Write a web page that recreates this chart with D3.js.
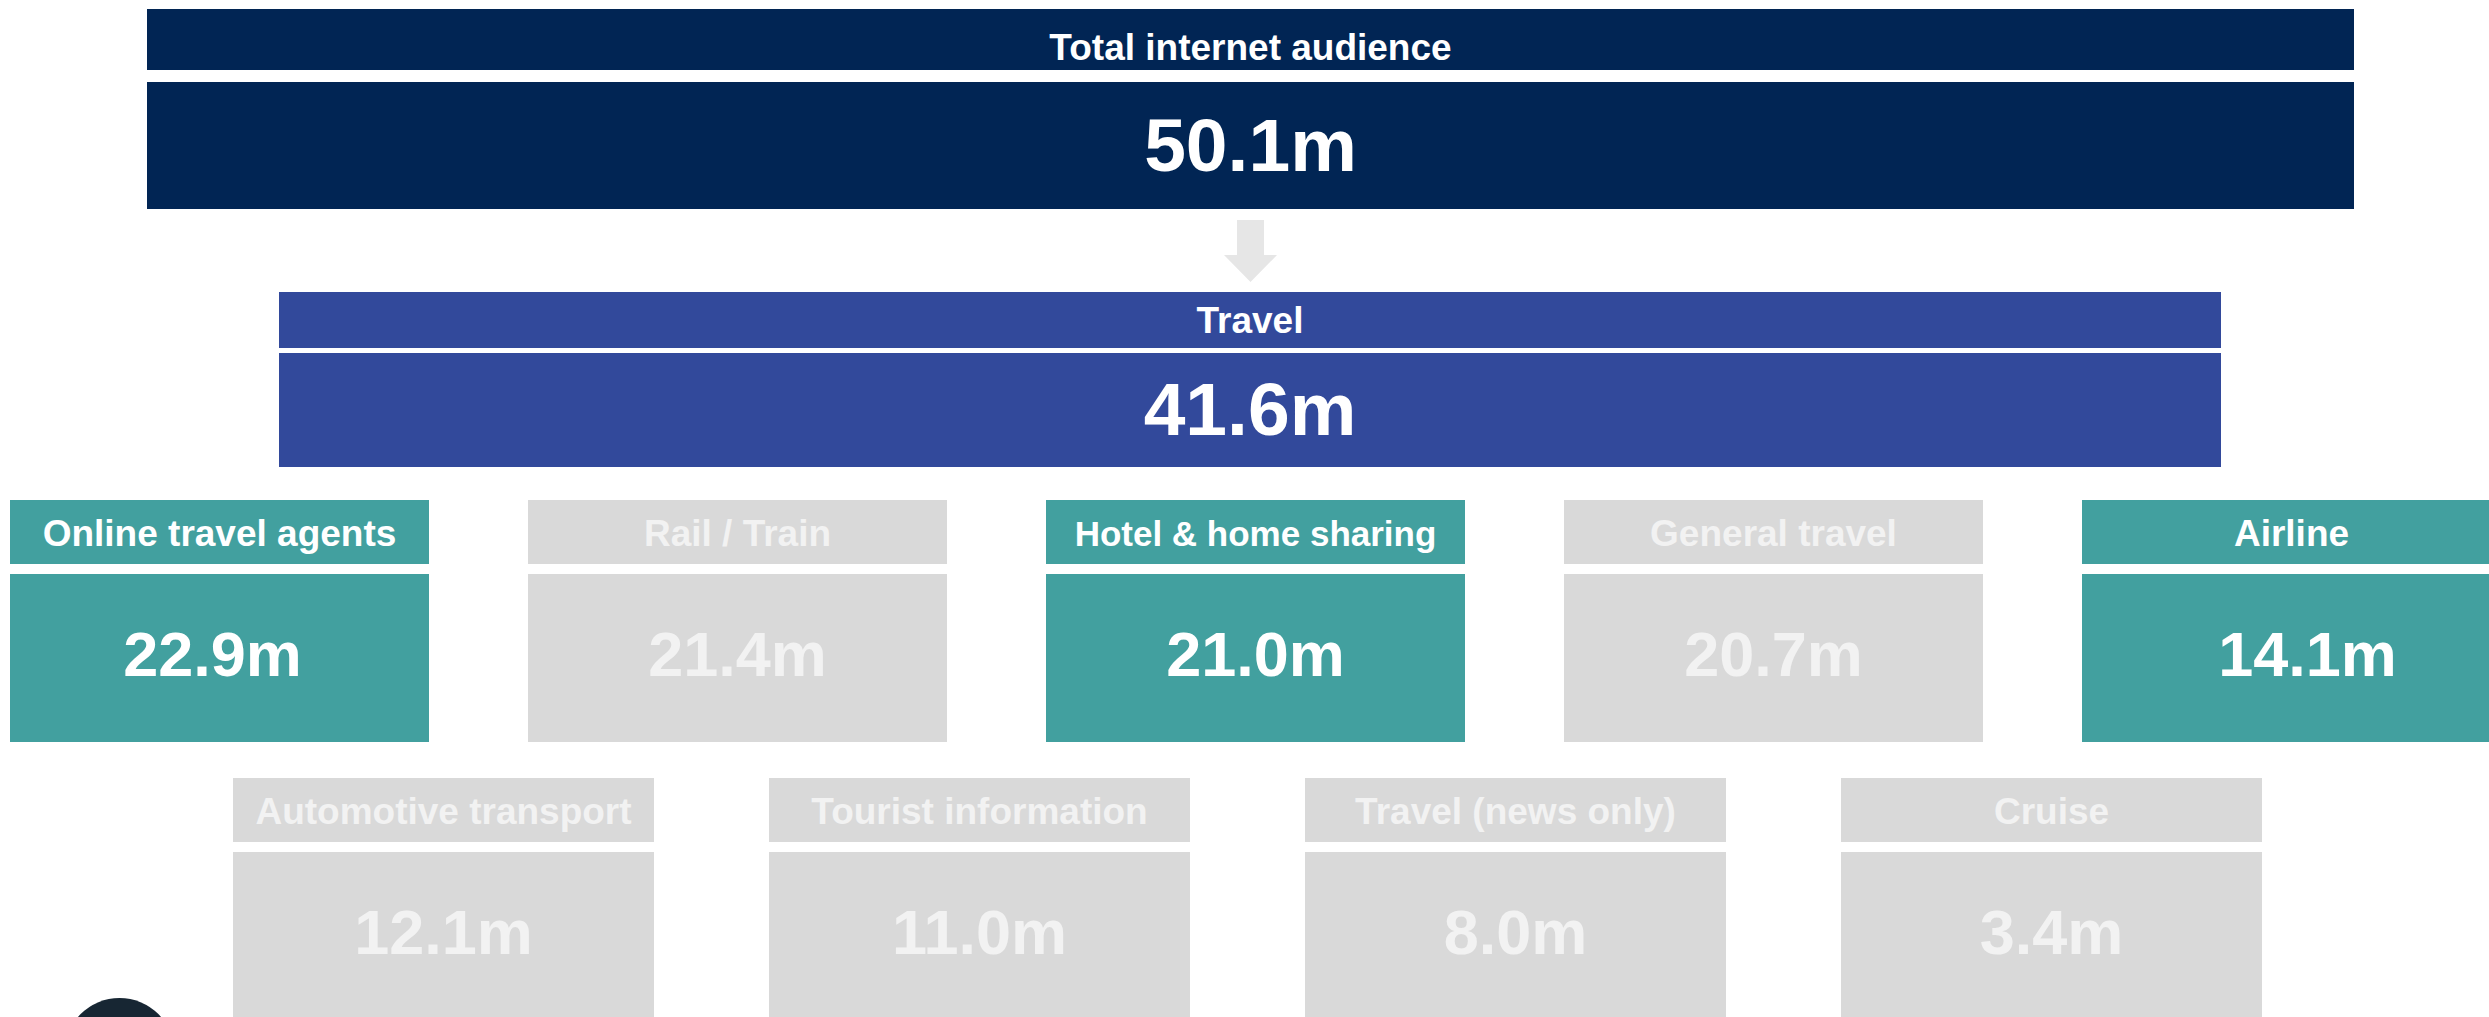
<!DOCTYPE html>
<html>
<head>
<meta charset="utf-8">
<script src="https://cdn.jsdelivr.net/npm/d3@7"></script>
<style>
  body { margin: 0; background: #fff; }
  svg text { font-family: "Liberation Sans", Arial, sans-serif; font-weight: bold; }
</style>
</head>
<body>
<div class="graph-container"></div>
<script>
// top two levels of the funnel
var levelNames = ['Total internet audience', 'Travel'];
var levelValues = [50.1, 41.6];
var levelColors = ['#012554', '#32499b'];

// travel sub-categories, first row and second row
var row1Names = ['Online travel agents', 'Rail / Train', 'Hotel & home sharing', 'General travel', 'Airline'];
var row1Values = [22.9, 21.4, 21.0, 20.7, 14.1];
var row2Names = ['Automotive transport', 'Tourist information', 'Travel (news only)', 'Cruise'];
var row2Values = [12.1, 11.0, 8.0, 3.4];

// categories shown in teal, the rest greyed out
var highlighted = ['Online travel agents', 'Hotel & home sharing', 'Airline'];

var svgWidth = 2489;
var svgHeight = 1017;
var fmt = d3.format('.1f');

var teal = '#42a09f';
var grey = '#d9d9d9';
var greyText = '#f2f2f2';

// a few labels in the original sit a little off the default
var labelSize = { 'Hotel & home sharing': 35 };
var valueShift = { 'Online travel agents': -7, 'Airline': 16 };

var svg = d3.select('.graph-container').append('svg')
  .attr('width', svgWidth)
  .attr('height', svgHeight);

// level bars: x extents per level
var levelX = [[147, 2354], [279, 2221]];
var levelY = d3.scaleBand().domain(levelNames).range([9, 9 + 2 * 283]).paddingInner(0);
var headH = [61, 56];
var gap = [12, 5];
var valH = [127, 114];

levelNames.forEach(function(name, i) {
  var y0 = levelY(name);
  var g = svg.append('g');
  g.append('rect')
    .attr('x', levelX[i][0]).attr('y', y0)
    .attr('width', levelX[i][1] - levelX[i][0]).attr('height', headH[i])
    .attr('fill', levelColors[i]);
  g.append('rect')
    .attr('x', levelX[i][0]).attr('y', y0 + headH[i] + gap[i])
    .attr('width', levelX[i][1] - levelX[i][0]).attr('height', valH[i])
    .attr('fill', levelColors[i]);
  var cx = (levelX[i][0] + levelX[i][1]) / 2;
  g.append('text')
    .attr('x', cx).attr('y', y0 + headH[i] / 2 + (i === 0 ? 20 : 13))
    .attr('text-anchor', 'middle')
    .attr('font-size', 37)
    .attr('fill', '#fff')
    .text(name);
  g.append('text')
    .attr('x', cx).attr('y', y0 + headH[i] + gap[i] + valH[i] / 2 + 25)
    .attr('text-anchor', 'middle')
    .attr('font-size', 75)
    .attr('fill', '#fff')
    .text(fmt(levelValues[i]) + 'm');
});

// down arrow between the two levels
svg.append('path')
  .attr('d', 'M1237,220 L1264,220 L1264,255 L1277,255 L1250.5,282 L1224,255 L1237,255 Z')
  .attr('fill', '#e6e6e6');

// draw a row of category boxes
function drawRow(names, values, x, top) {
  var headHeight = 64;
  var valTop = top + 74;
  var valHeight = 168;
  var isHi = function(d) { return highlighted.indexOf(d) >= 0; };
  var row = svg.append('g').selectAll('g')
    .data(names)
    .enter()
    .append('g');

  row.append('rect')
    .attr('x', function(d) { return x(d); })
    .attr('y', top)
    .attr('width', x.bandwidth())
    .attr('height', headHeight)
    .attr('fill', function(d) { return isHi(d) ? teal : grey; });

  row.append('rect')
    .attr('x', function(d) { return x(d); })
    .attr('y', valTop)
    .attr('width', x.bandwidth())
    .attr('height', valHeight)
    .attr('fill', function(d) { return isHi(d) ? teal : grey; });

  row.append('text')
    .attr('x', function(d) { return x(d) + x.bandwidth() / 2; })
    .attr('y', top + headHeight / 2 + 14)
    .attr('text-anchor', 'middle')
    .attr('font-size', function(d) { return labelSize[d] || 37; })
    .attr('fill', function(d) { return isHi(d) ? '#fff' : greyText; })
    .text(function(d) { return d; });

  row.append('text')
    .attr('x', function(d) { return x(d) + x.bandwidth() / 2 + (valueShift[d] || 0); })
    .attr('y', valTop + valHeight / 2 + 18)
    .attr('text-anchor', 'middle')
    .attr('font-size', 63)
    .attr('fill', function(d) { return isHi(d) ? '#fff' : greyText; })
    .text(function(d, i) { return fmt(values[i]) + 'm'; });
}

var x1 = d3.scaleBand()
  .domain(row1Names)
  .range([10, 10 + 4 * 518 + 419])
  .paddingInner(99 / 518);
drawRow(row1Names, row1Values, x1, 500);

var x2 = d3.scaleBand()
  .domain(row2Names)
  .range([233, 233 + 3 * 536 + 421])
  .paddingInner(115 / 536);
drawRow(row2Names, row2Values, x2, 778);

// dark logo circle peeking in at the bottom left
svg.append('circle')
  .attr('cx', 119.5)
  .attr('cy', 1053)
  .attr('r', 55)
  .attr('fill', '#172633');
</script>
</body>
</html>
